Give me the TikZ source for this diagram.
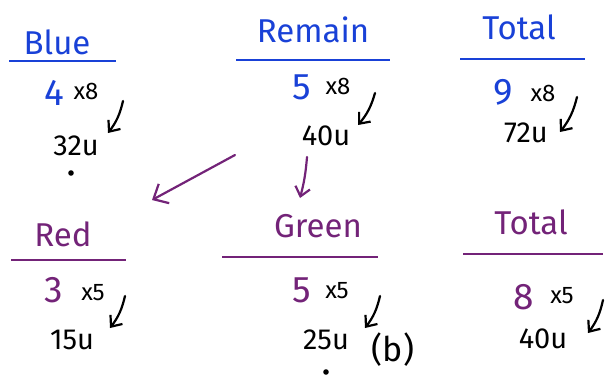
\documentclass[tikz,border=0pt]{standalone}
\usepackage{fontspec}
\setmainfont{Fira Sans}
\usetikzlibrary{arrows.meta, positioning}
\definecolor{penblue}{RGB}{25,65,215}
\definecolor{penpurple}{RGB}{115,35,120}

\begin{document}
\begin{tikzpicture}[
    x=1pt, y=-1pt,
    head/.style={font=\fontsize{33}{35}\selectfont, inner sep=0pt},
    bluehead/.style={head, text=penblue},
    purplehead/.style={head, text=penpurple},
    digit/.style={font=\fontsize{37}{39}\selectfont, inner sep=0pt},
    timesby/.style={font=\fontsize{24}{26}\selectfont, inner sep=0pt},
    units/.style={font=\fontsize{29}{31}\selectfont, inner sep=0pt},
    bluerule/.style={line width=2.6pt, color=penblue},
    purplerule/.style={line width=2.6pt, color=penpurple},
    inkarrow/.style={-{Straight Barb[length=9pt, width=15pt]}, line width=2.2pt, line cap=round},
    bigarrow/.style={inkarrow, color=penpurple, -{Straight Barb[length=12pt, width=22pt]}},
    every node/.style={inner sep=0pt}
]
\useasboundingbox (0,0) rectangle (612,383);

% top row: blue, remain, total
\node[bluehead] (blueHead) at (57,42) {Blue};
\node[bluehead] (remainHead) at (313,30) {Remain};
\node[bluehead] (totalHead) at (519,27) {Total};
\draw[bluerule] (9,61) -- (116,61);
\draw[bluerule] (236,60) -- (390,60);
\draw[bluerule] (460,59) -- (585,59);

\node[digit, text=penblue] (blueN) at (54,93) {4};
\node[timesby] (blueX) at (86,91) {x8};
\node[digit, text=penblue] (remainN) at (302,87) {5};
\node[timesby] (remainX) at (338,86) {x8};
\node[digit, text=penblue] (totalN) at (503,92) {9};
\node[timesby] (totalX) at (543,93) {x8};

\node[units] (blueU) at (76,146) {32u};
\node[units] (remainU) at (326,136) {40u};
\node[units] (totalU) at (526,133) {72u};
\fill (71,173) circle (2.8);

\coordinate (blueA) at (123,101);
\coordinate (blueB) at (108,133);
\coordinate (remainA) at (375,93);
\coordinate (remainB) at (358,125);
\coordinate (totalA) at (577,97);
\coordinate (totalB) at (560,132);
\draw[inkarrow] (blueA) to[bend left=12] (blueB);
\draw[inkarrow] (remainA) to[bend left=12] (remainB);
\draw[inkarrow] (totalA) to[bend left=12] (totalB);

% split into red and green
\coordinate (splitA) at (235,155);
\coordinate (splitB) at (152,200);
\coordinate (downA) at (307,157);
\coordinate (downB) at (300,198);
\draw[bigarrow] (splitA) -- (splitB);
\draw[inkarrow, color=penpurple] (downA) to[bend left=5] (downB);

% bottom row: red, green, total
\node[purplehead] (redHead) at (63,234) {Red};
\node[purplehead] (greenHead) at (318,226) {Green};
\node[purplehead] (sumHead) at (531,222) {Total};
\draw[purplerule] (11,260) -- (126,260);
\draw[purplerule] (222,257) -- (378,257);
\draw[purplerule] (463,254) -- (603,254);

\node[digit, text=penpurple] (redN) at (54,290) {3};
\node[timesby] (redX) at (93,293) {x5};
\node[digit, text=penpurple] (greenN) at (302,290) {5};
\node[timesby] (greenX) at (337,291) {x5};
\node[digit, text=penpurple] (sumN) at (524,297) {8};
\node[timesby] (sumX) at (562,296) {x5};

\node[units] (redU) at (72,340) {15u};
\node[units] (greenU) at (326,340) {25u};
\node[units, font=\fontsize{34}{36}\selectfont] (greenTag) at (393,350) {(b)};
\node[units] (sumU) at (543,339) {40u};
\fill (326,372) circle (2.8);

\coordinate (redA) at (125,296);
\coordinate (redB) at (110,328);
\coordinate (greenA) at (380,296);
\coordinate (greenB) at (365,328);
\coordinate (sumA) at (603,300);
\coordinate (sumB) at (588,333);
\draw[inkarrow] (redA) to[bend left=12] (redB);
\draw[inkarrow] (greenA) to[bend left=12] (greenB);
\draw[inkarrow] (sumA) to[bend left=12] (sumB);
\end{tikzpicture}
\end{document}
